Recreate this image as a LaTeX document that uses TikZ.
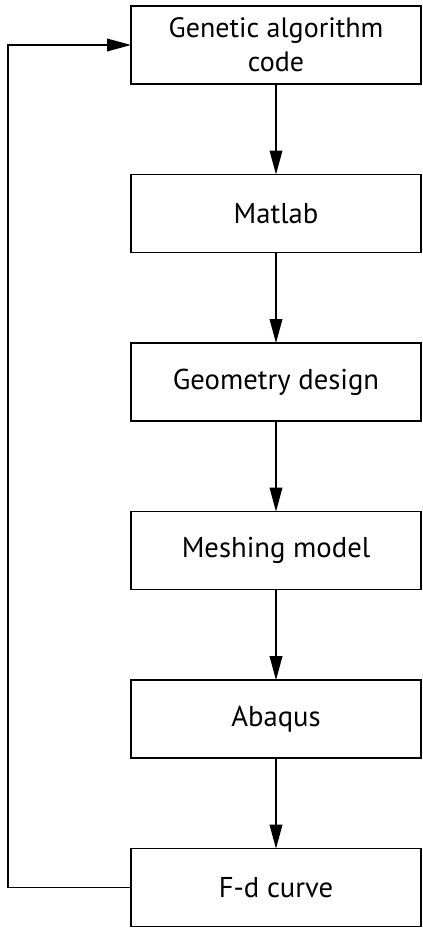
\documentclass[tikz,border=0pt]{standalone}
\usepackage{fontspec}
\setmainfont{PT Sans}
\usetikzlibrary{arrows.meta,positioning}

\begin{document}
\begin{tikzpicture}[->,>={Triangle[length=18pt,width=9.5pt]},line width=1.1pt,
    node distance=67.9pt,
    step box/.style={rectangle,draw,outer sep=0pt,minimum width=217.5pt,minimum height=58.5pt,
      align=center,font=\fontsize{21.5}{25.5}\selectfont}]

\useasboundingbox (0,0) rectangle (316.5pt,-697.5pt);

\node[step box, font=\fontsize{21}{25.5}\selectfont] (ga) at (207pt,-33.75pt) {Genetic algorithm\\code};
\node[step box] (mat) [below=of ga] {Matlab};
\node[step box] (geo) [below=of mat] {Geometry design};
\node[step box] (mesh) [below=of geo] {Meshing model};
\node[step box] (abq) [below=of mesh] {Abaqus};
\node[step box] (fd) [below=of abq] {F-d curve};

\path (ga) edge (mat)
      (mat) edge (geo)
      (geo) edge (mesh)
      (mesh) edge (abq)
      (abq) edge (fd);

% feedback loop
\draw (fd.west) -- ++(-92.25pt,0) |- (ga.west);
\end{tikzpicture}
\end{document}
